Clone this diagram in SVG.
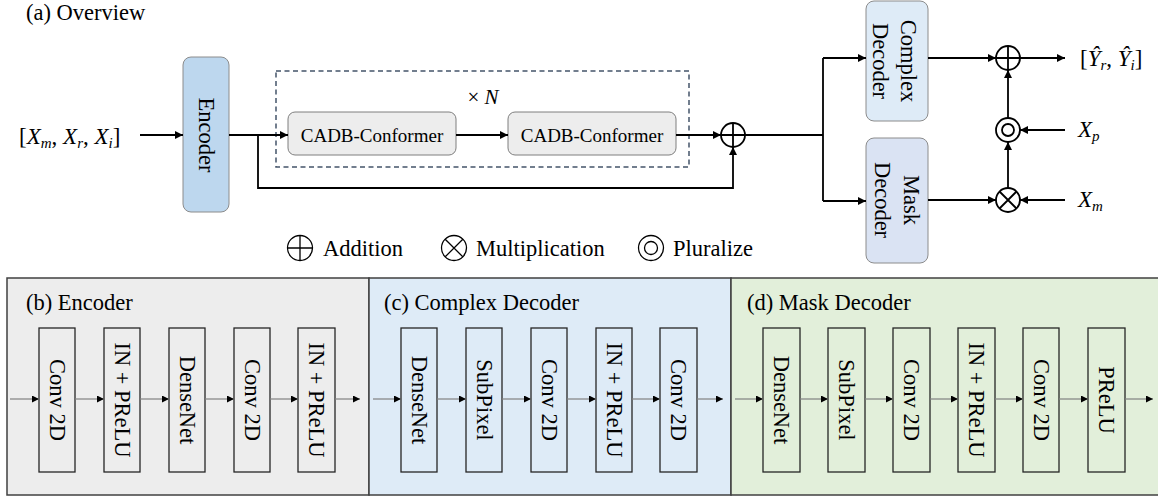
<svg xmlns="http://www.w3.org/2000/svg" width="1158" height="497" viewBox="0 0 1158 497">
  <style>
    text { font-family: "Liberation Serif", "Times New Roman", serif; fill: #000; }
    .lbl { font-size: 22.5px; }
    .blk { font-size: 22.5px; text-anchor: middle; dominant-baseline: central; }
    .cadb { font-size: 19px; text-anchor: middle; dominant-baseline: central; }
    .math { font-size: 23px; }
    .it { font-style: italic; }
    .wire { fill: none; stroke: #000; stroke-width: 1.8; }
    .thin { fill: none; stroke: #808080; stroke-width: 1.2; }
    .op { fill: #fff; stroke: #000; stroke-width: 1.8; }
    .lg { fill: none; stroke: #000; stroke-width: 1.3; }
    .layer { fill: none; stroke: #262626; stroke-width: 1.3; }
    .panel { stroke: #404040; stroke-width: 1.5; }
  </style>
  <defs>
    <marker id="ah" viewBox="0 0 10 10" refX="10" refY="5" markerWidth="9" markerHeight="8" markerUnits="userSpaceOnUse" orient="auto">
      <path d="M0,0 L10,5 L0,10 z" fill="#000"/>
    </marker>
    <marker id="ahs" viewBox="0 0 10 10" refX="10" refY="5" markerWidth="8" markerHeight="7" markerUnits="userSpaceOnUse" orient="auto">
      <path d="M0,0 L10,5 L0,10 z" fill="#000"/>
    </marker>
  </defs>

  <rect width="1158" height="497" fill="#fff"/>

  <!-- (a) Overview -->
  <text class="lbl" x="26" y="20">(a) Overview</text>

  <g id="input">
    <text class="math" x="19" y="144">[<tspan class="it">X</tspan><tspan class="it" font-size="15" dy="4">m</tspan><tspan dy="-4">, </tspan><tspan class="it">X</tspan><tspan class="it" font-size="15" dy="4">r</tspan><tspan dy="-4">, </tspan><tspan class="it">X</tspan><tspan class="it" font-size="15" dy="4">i</tspan><tspan dy="-4">]</tspan></text>
  </g>

  <g id="encoder">
    <rect x="183" y="57" width="46" height="155" rx="8" fill="#bdd7ee" stroke="#8c8c8c" stroke-width="1"/>
    <text class="blk" transform="translate(206,135) rotate(90)">Encoder</text>
  </g>

  <g id="repeat">
    <rect x="276" y="71" width="413" height="96" fill="none" stroke="#44546a" stroke-width="1.5" stroke-dasharray="5,3.5"/>
    <text x="483" y="104" font-size="21" text-anchor="middle">× <tspan class="it">N</tspan></text>
  </g>

  <g id="cadb1">
    <rect x="288" y="112" width="168" height="43" rx="7" fill="#ededed" stroke="#7f7f7f" stroke-width="1"/>
    <text class="cadb" x="372" y="135">CADB-Conformer</text>
  </g>
  <g id="cadb2">
    <rect x="508" y="112" width="168" height="43" rx="7" fill="#ededed" stroke="#7f7f7f" stroke-width="1"/>
    <text class="cadb" x="592" y="135">CADB-Conformer</text>
  </g>

  <g id="add1">
    <circle class="op" cx="733" cy="135" r="12"/>
    <path class="wire" d="M721,135 H745 M733,123 V147"/>
  </g>

  <g id="complex-decoder">
    <rect x="866" y="1" width="62" height="120" rx="8" fill="#deebf7" stroke="#8c8c8c" stroke-width="1"/>
    <text class="blk" transform="translate(894,61) rotate(90)" y="-14">Complex</text>
    <text class="blk" transform="translate(894,61) rotate(90)" y="14">Decoder</text>
  </g>

  <g id="mask-decoder">
    <rect x="866" y="138" width="62" height="125" rx="8" fill="#dae3f3" stroke="#8c8c8c" stroke-width="1"/>
    <text class="blk" transform="translate(896,200) rotate(90)" y="-15">Mask</text>
    <text class="blk" transform="translate(896,200) rotate(90)" y="14">Decoder</text>
  </g>

  <g id="add2">
    <circle class="op" cx="1008" cy="58" r="12"/>
    <path class="wire" d="M996,58 H1020 M1008,46 V70"/>
  </g>
  <g id="pluralize">
    <circle class="op" cx="1008" cy="130" r="12"/>
    <circle class="op" cx="1008" cy="130" r="6"/>
  </g>
  <g id="mul">
    <circle class="op" cx="1008" cy="200" r="12"/>
    <path class="wire" d="M999.5,191.5 L1016.5,208.5 M1016.5,191.5 L999.5,208.5"/>
  </g>

  <g id="output">
    <text class="math" x="1080" y="66" font-size="22">[<tspan class="it">Ŷ</tspan><tspan class="it" font-size="15" dy="4">r</tspan><tspan dy="-4">, </tspan><tspan class="it">Ŷ</tspan><tspan class="it" font-size="15" dy="4">i</tspan><tspan dy="-4">]</tspan></text>
  </g>
  <g id="xp">
    <text class="math" x="1078" y="137"><tspan class="it">X</tspan><tspan class="it" font-size="15" dy="4">p</tspan></text>
  </g>
  <g id="xm">
    <text class="math" x="1078" y="207"><tspan class="it">X</tspan><tspan class="it" font-size="15" dy="4">m</tspan></text>
  </g>

  <g id="connectors">
    <path class="wire" d="M140,135 H183" marker-end="url(#ah)"/>
    <path class="wire" d="M229,135 H288" marker-end="url(#ah)"/>
    <path class="wire" d="M258,135 V188 H733 V147" marker-end="url(#ah)"/>
    <path class="wire" d="M456,135 H508" marker-end="url(#ah)"/>
    <path class="wire" d="M676,135 H721" marker-end="url(#ah)"/>
    <path class="wire" d="M745,135 H823 M823,58 V201"/>
    <path class="wire" d="M823,58 H866" marker-end="url(#ah)"/>
    <path class="wire" d="M823,201 H866" marker-end="url(#ah)"/>
    <path class="wire" d="M928,58 H996" marker-end="url(#ah)"/>
    <path class="wire" d="M1020,58 H1065" marker-end="url(#ah)"/>
    <path class="wire" d="M928,200 H996" marker-end="url(#ah)"/>
    <path class="wire" d="M1065,200 H1020" marker-end="url(#ah)"/>
    <path class="wire" d="M1008,188 V142" marker-end="url(#ah)"/>
    <path class="wire" d="M1065,130 H1020" marker-end="url(#ah)"/>
    <path class="wire" d="M1008,118 V70" marker-end="url(#ah)"/>
  </g>

  <!-- legend -->
  <g id="legend">
    <circle class="lg" cx="300" cy="248" r="12.5"/>
    <path class="lg" d="M287.5,248 H312.5 M300,235.5 V260.5"/>
    <text class="lbl" x="323" y="256">Addition</text>
    <circle class="lg" cx="454" cy="248" r="12.5"/>
    <path class="lg" d="M445.2,239.2 L462.8,256.8 M462.8,239.2 L445.2,256.8"/>
    <text class="lbl" x="476" y="256">Multiplication</text>
    <circle class="lg" cx="651" cy="248" r="12.5"/>
    <circle class="lg" cx="651" cy="248" r="6.5"/>
    <text class="lbl" x="673" y="256">Pluralize</text>
  </g>

  <!-- (b) Encoder -->
  <g id="panel-encoder">
    <rect class="panel" x="7" y="278" width="362" height="217" fill="#ededed"/>
    <text class="lbl" x="26" y="310">(b) Encoder</text>
    <rect class="layer" x="39" y="328" width="36" height="144"/>
    <text class="blk" transform="translate(57,400) rotate(90)">Conv 2D</text>
    <rect class="layer" x="104" y="328" width="36" height="144"/>
    <text class="blk" transform="translate(122,400) rotate(90)">IN + PReLU</text>
    <rect class="layer" x="169" y="328" width="36" height="144"/>
    <text class="blk" transform="translate(187,400) rotate(90)">DenseNet</text>
    <rect class="layer" x="234" y="328" width="36" height="144"/>
    <text class="blk" transform="translate(252,400) rotate(90)">Conv 2D</text>
    <rect class="layer" x="298" y="328" width="37" height="144"/>
    <text class="blk" transform="translate(316.5,400) rotate(90)">IN + PReLU</text>
  </g>

  <!-- (c) Complex Decoder -->
  <g id="panel-complex">
    <rect class="panel" x="369" y="278" width="362" height="217" fill="#deebf7"/>
    <text class="lbl" x="384" y="310">(c) Complex Decoder</text>
    <rect class="layer" x="401" y="328" width="36" height="144"/>
    <text class="blk" transform="translate(419,400) rotate(90)">DenseNet</text>
    <rect class="layer" x="466" y="328" width="36" height="144"/>
    <text class="blk" transform="translate(484,400) rotate(90)">SubPixel</text>
    <rect class="layer" x="531" y="328" width="36" height="144"/>
    <text class="blk" transform="translate(549,400) rotate(90)">Conv 2D</text>
    <rect class="layer" x="596" y="328" width="36" height="144"/>
    <text class="blk" transform="translate(614,400) rotate(90)">IN + PReLU</text>
    <rect class="layer" x="660" y="328" width="37" height="144"/>
    <text class="blk" transform="translate(678.5,400) rotate(90)">Conv 2D</text>
  </g>

  <!-- (d) Mask Decoder -->
  <g id="panel-mask">
    <rect class="panel" x="731" y="278" width="432" height="217" fill="#e2efda"/>
    <text class="lbl" x="747" y="310">(d) Mask Decoder</text>
    <rect class="layer" x="763" y="328" width="37" height="144"/>
    <text class="blk" transform="translate(781.5,400) rotate(90)">DenseNet</text>
    <rect class="layer" x="828" y="328" width="37" height="144"/>
    <text class="blk" transform="translate(846.5,400) rotate(90)">SubPixel</text>
    <rect class="layer" x="893" y="328" width="37" height="144"/>
    <text class="blk" transform="translate(911.5,400) rotate(90)">Conv 2D</text>
    <rect class="layer" x="958" y="328" width="37" height="144"/>
    <text class="blk" transform="translate(976.5,400) rotate(90)">IN + PReLU</text>
    <rect class="layer" x="1023" y="328" width="36" height="144"/>
    <text class="blk" transform="translate(1041,400) rotate(90)">Conv 2D</text>
    <rect class="layer" x="1088" y="328" width="37" height="144"/>
    <text class="blk" transform="translate(1106.5,400) rotate(90)">PReLU</text>
  </g>

  <g id="panel-connectors">
    <path class="thin" d="M10,399 H39" marker-end="url(#ahs)"/>
    <path class="thin" d="M75,399 H104" marker-end="url(#ahs)"/>
    <path class="thin" d="M140,399 H169" marker-end="url(#ahs)"/>
    <path class="thin" d="M205,399 H234" marker-end="url(#ahs)"/>
    <path class="thin" d="M270,399 H298" marker-end="url(#ahs)"/>
    <path class="thin" d="M335,399 H360" marker-end="url(#ahs)"/>
    <path class="thin" d="M373,399 H401" marker-end="url(#ahs)"/>
    <path class="thin" d="M437,399 H466" marker-end="url(#ahs)"/>
    <path class="thin" d="M502,399 H531" marker-end="url(#ahs)"/>
    <path class="thin" d="M567,399 H596" marker-end="url(#ahs)"/>
    <path class="thin" d="M632,399 H660" marker-end="url(#ahs)"/>
    <path class="thin" d="M697,399 H723" marker-end="url(#ahs)"/>
    <path class="thin" d="M735,399 H763" marker-end="url(#ahs)"/>
    <path class="thin" d="M800,399 H828" marker-end="url(#ahs)"/>
    <path class="thin" d="M865,399 H893" marker-end="url(#ahs)"/>
    <path class="thin" d="M930,399 H958" marker-end="url(#ahs)"/>
    <path class="thin" d="M995,399 H1023" marker-end="url(#ahs)"/>
    <path class="thin" d="M1059,399 H1088" marker-end="url(#ahs)"/>
    <path class="thin" d="M1125,399 H1153" marker-end="url(#ahs)"/>
  </g>
</svg>
